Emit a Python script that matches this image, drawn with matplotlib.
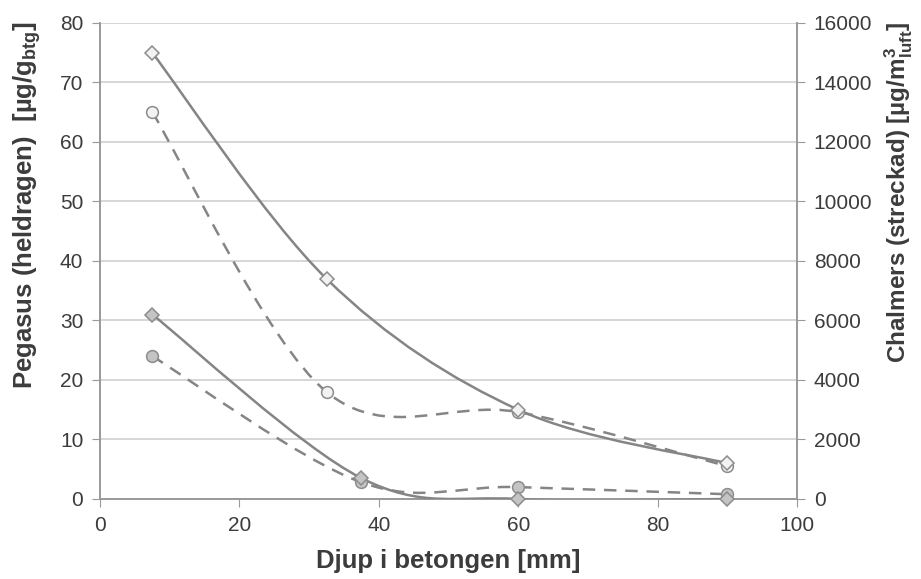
import numpy as np
import matplotlib
matplotlib.use("Agg")
import matplotlib.pyplot as plt
from matplotlib.path import Path
from matplotlib.patches import PathPatch

plt.rcParams['font.family'] = ['Liberation Sans', 'DejaVu Sans']

# depth [mm]
peg_x_a = [7.5, 32.5, 60, 90]
peg_y_a = [75, 37, 15, 6]
peg_x_b = [7.5, 37.5, 60, 90]
peg_y_b = [31, 3.5, 0, 0]

cha_x_a = [7.5, 32.5, 60, 90]
cha_y_a = [13000, 3600, 2920, 1100]
cha_x_b = [7.5, 37.5, 60, 90]
cha_y_b = [4800, 560, 400, 160]

x_ticks = [0, 20, 40, 60, 80, 100]
left_ticks = [0, 10, 20, 30, 40, 50, 60, 70, 80]
right_ticks = [0, 2000, 4000, 6000, 8000, 10000, 12000, 14000, 16000]

LINE = '#858585'
EDGE = '#8c8c8c'
TXT = '#3c3c3c'


def smooth_path(xs, ys):
    # Excel style smoothed line: cubic bezier with catmull-rom control points
    pts = np.column_stack([xs, ys]).astype(float)
    verts = [pts[0]]
    codes = [Path.MOVETO]
    n = len(pts)
    for i in range(n - 1):
        p0 = pts[i - 1] if i > 0 else pts[i]
        p1 = pts[i]
        p2 = pts[i + 1]
        p3 = pts[i + 2] if i + 2 < n else pts[i + 1]
        c1 = p1 + (p2 - p0) / 6.0
        c2 = p2 - (p3 - p1) / 6.0
        verts += [c1, c2, p2]
        codes += [Path.CURVE4] * 3
    return Path(verts, codes)


def draw_series(ax, xs, ys, ls, marker, face):
    patch = PathPatch(smooth_path(xs, ys), facecolor='none', edgecolor=LINE,
                      lw=1.8, linestyle=ls, zorder=3)
    patch.set_clip_on(True)
    ax.add_patch(patch)
    ax.plot(xs, ys, linestyle='none', marker=marker, ms=7 if marker == 'D' else 8.5,
            mfc=face, mec=EDGE, mew=1.1, zorder=4, clip_on=False)


fig = plt.figure(figsize=(9.21, 5.79), dpi=100)
ax = fig.add_axes([0.1086, 0.1382, 0.7568, 0.8221])
ax2 = ax.twinx()

for a in (ax, ax2):
    for s in a.spines.values():
        s.set_color('#999999')
        s.set_linewidth(1.2)
    a.spines['top'].set_visible(False)

ax.set_xlim(0, 100)
ax.set_ylim(0, 80)
ax2.set_ylim(0, 16000)
ax.set_xticks(x_ticks)
ax.set_yticks(left_ticks)
ax2.set_yticks(right_ticks)
ax.yaxis.grid(True, color='#cfcfcf', lw=1.2)
ax.set_axisbelow(True)

for a in (ax, ax2):
    a.tick_params(axis='both', direction='out', length=6, color='#999999',
                  labelsize=15, labelcolor=TXT, pad=6)

draw_series(ax2, cha_x_a, cha_y_a, (0, (5, 3.5)), 'o', '#f2f2f2')
draw_series(ax2, cha_x_b, cha_y_b, (0, (5, 3.5)), 'o', '#c4c4c4')
draw_series(ax2, [x for x in peg_x_a], [y * 200 for y in peg_y_a], '-', 'D', '#f2f2f2')
draw_series(ax2, [x for x in peg_x_b], [y * 200 for y in peg_y_b], '-', 'D', '#c4c4c4')

ax.set_xlabel('Djup i betongen [mm]', fontsize=18.5, fontweight='bold', color=TXT, labelpad=10)
ax.set_ylabel('Pegasus (heldragen)  [µg/g$_{\\mathregular{btg}}$]', fontsize=18.5,
              fontweight='bold', color=TXT, labelpad=12)
ax2.set_ylabel('Chalmers (streckad) [µg/m$^{\\mathregular{3}}_{\\mathregular{luft}}$]', fontsize=17.5,
               fontweight='bold', color=TXT, labelpad=7)
ax.yaxis.label.set_y(0.618)
ax2.yaxis.label.set_y(0.645)

fig.savefig('out.png', dpi=100)
